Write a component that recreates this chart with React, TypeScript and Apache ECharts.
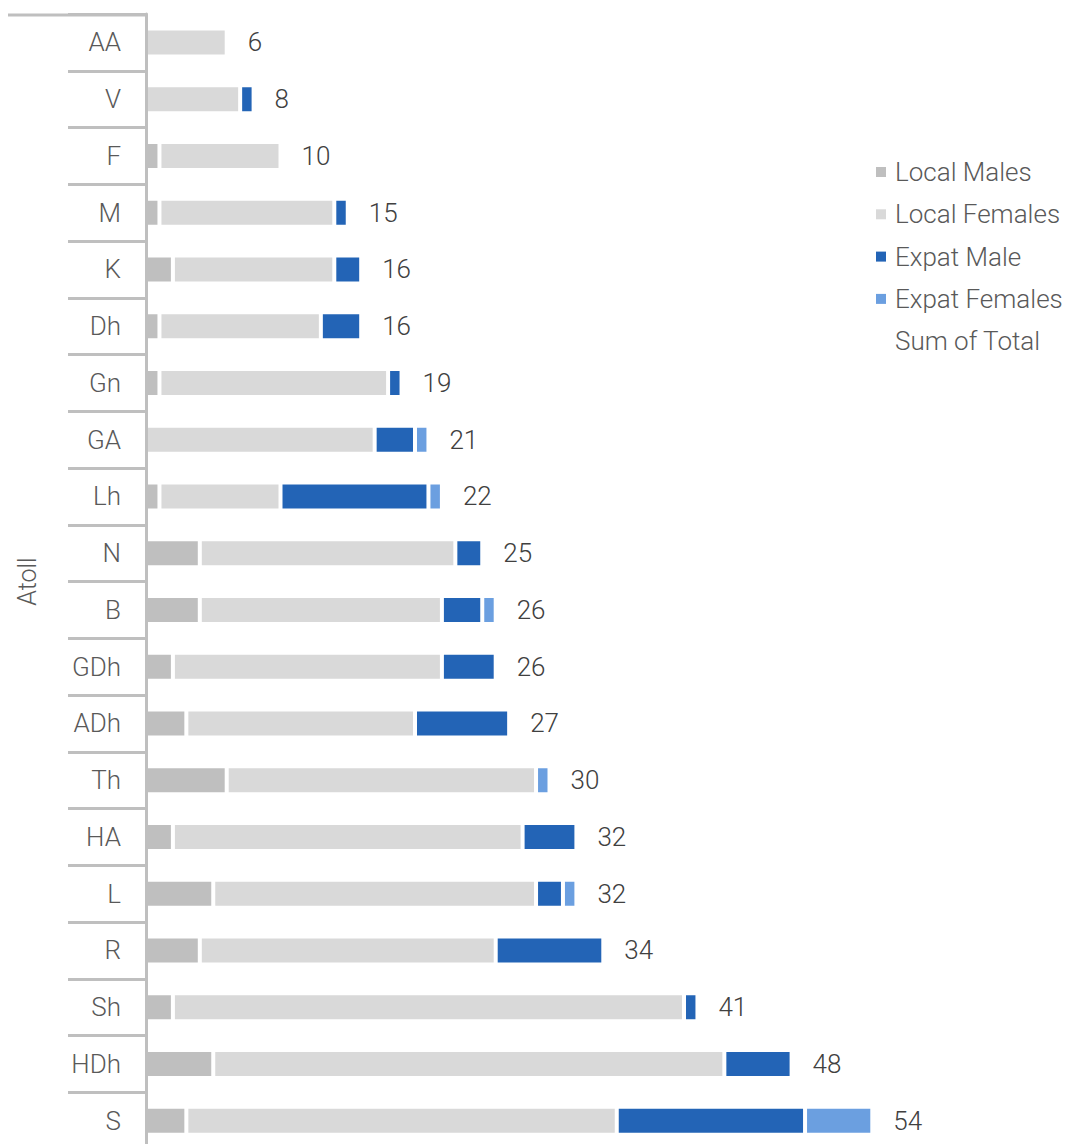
import React, { useEffect, useRef } from "react";
import * as echarts from "echarts";

// Atolls, top to bottom
const categories = ["AA", "V", "F", "M", "K", "Dh", "Gn", "GA", "Lh", "N", "B", "GDh", "ADh", "Th", "HA", "L", "R", "Sh", "HDh", "S"];
const localMales = [0, 0, 1, 1, 2, 1, 1, 0, 1, 4, 4, 2, 3, 6, 2, 5, 4, 2, 5, 3];
const localFemales = [6, 7, 9, 13, 12, 12, 17, 17, 9, 19, 18, 20, 17, 23, 26, 24, 22, 38, 38, 32];
const expatMale = [0, 1, 0, 1, 2, 3, 1, 3, 11, 2, 3, 4, 7, 0, 4, 2, 8, 1, 5, 14];
const expatFemales = [0, 0, 0, 0, 0, 0, 0, 1, 1, 0, 1, 0, 0, 1, 0, 1, 0, 0, 0, 5];
const totals = [6, 8, 10, 15, 16, 16, 19, 21, 22, 25, 26, 26, 27, 30, 32, 32, 34, 41, 48, 54];

const FONT = "Roboto";
const TEXT = "#595959";
const GRID_LINE = "#bfbfbf";

// zero segments are skipped so they draw nothing
const seg = (arr: number[]) => arr.map((v) => (v === 0 ? "-" : v));

export default function App() {
  const ref = useRef<HTMLDivElement>(null);

  useEffect(() => {
    if (!ref.current) return;
    const chart = echarts.init(ref.current, undefined, { renderer: "svg" });

    const stackBar = (name: string, data: number[], color: string) => ({
      name,
      type: "bar",
      stack: "total",
      barWidth: 28,
      data: seg(data),
      itemStyle: { color, borderColor: "#ffffff", borderWidth: 2 },
      emphasis: { disabled: true },
    });

    chart.setOption({
      animation: false,
      textStyle: { fontFamily: FONT },
      grid: { left: 146, right: 119, top: 14, bottom: 1, containLabel: false },
      legend: {
        orient: "vertical",
        left: 876,
        top: 157,
        padding: 0,
        itemWidth: 10,
        itemHeight: 10,
        itemGap: 12.3,
        icon: "rect",
        itemStyle: { borderWidth: 0 },
        textStyle: {
          fontSize: 26,
          fontWeight: 300,
          color: TEXT,
          fontFamily: FONT,
          lineHeight: 30,
          padding: [0, 0, 0, 4],
        },
        data: ["Local Males", "Local Females", "Expat Male", "Expat Females", "Sum of Total"],
      },
      xAxis: {
        type: "value",
        min: 0,
        max: 60,
        show: false,
      },
      yAxis: {
        type: "category",
        inverse: true,
        data: categories,
        z: 10,
        name: "Atoll",
        nameLocation: "middle",
        nameGap: 106,
        nameTextStyle: { fontSize: 25, fontWeight: 300, color: TEXT, fontFamily: FONT },
        axisLine: { show: true, lineStyle: { color: GRID_LINE, width: 3 } },
        axisTick: { show: true, interval: 0, length: 78, lineStyle: { color: GRID_LINE, width: 3 } },
        axisLabel: { interval: 0, margin: 25, fontSize: 26, fontWeight: 300, color: TEXT, fontFamily: FONT },
        splitLine: { show: false },
      },
      graphic: [
        {
          type: "line",
          shape: { x1: 8, y1: 15, x2: 146, y2: 15 },
          style: { stroke: GRID_LINE, lineWidth: 3 },
          z: 10,
        },
      ],
      series: [
        stackBar("Local Males", localMales, "#bfbfbf"),
        stackBar("Local Females", localFemales, "#d9d9d9"),
        stackBar("Expat Male", expatMale, "#2364b6"),
        stackBar("Expat Females", expatFemales, "#6b9fe0"),
        {
          name: "Sum of Total",
          type: "bar",
          stack: "total",
          barWidth: 28,
          data: totals.map(() => 0),
          itemStyle: { color: "rgba(0,0,0,0)", borderWidth: 0 },
          emphasis: { disabled: true },
          label: {
            show: true,
            position: "right",
            distance: 21,
            fontSize: 26,
            fontWeight: 300,
            color: "#404040",
            fontFamily: FONT,
            formatter: (p: any) => String(totals[p.dataIndex]),
          },
        },
      ],
    });

    return () => chart.dispose();
  }, []);

  // the plot runs slightly past the bottom edge, so the chart is taller than its clipping frame
  return (
    <div style={{ position: "absolute", left: 0, top: 0, width: 1072, height: 1144, overflow: "hidden", background: "#ffffff" }}>
      <div ref={ref} style={{ width: 1072, height: 1150 }} />
    </div>
  );
}
